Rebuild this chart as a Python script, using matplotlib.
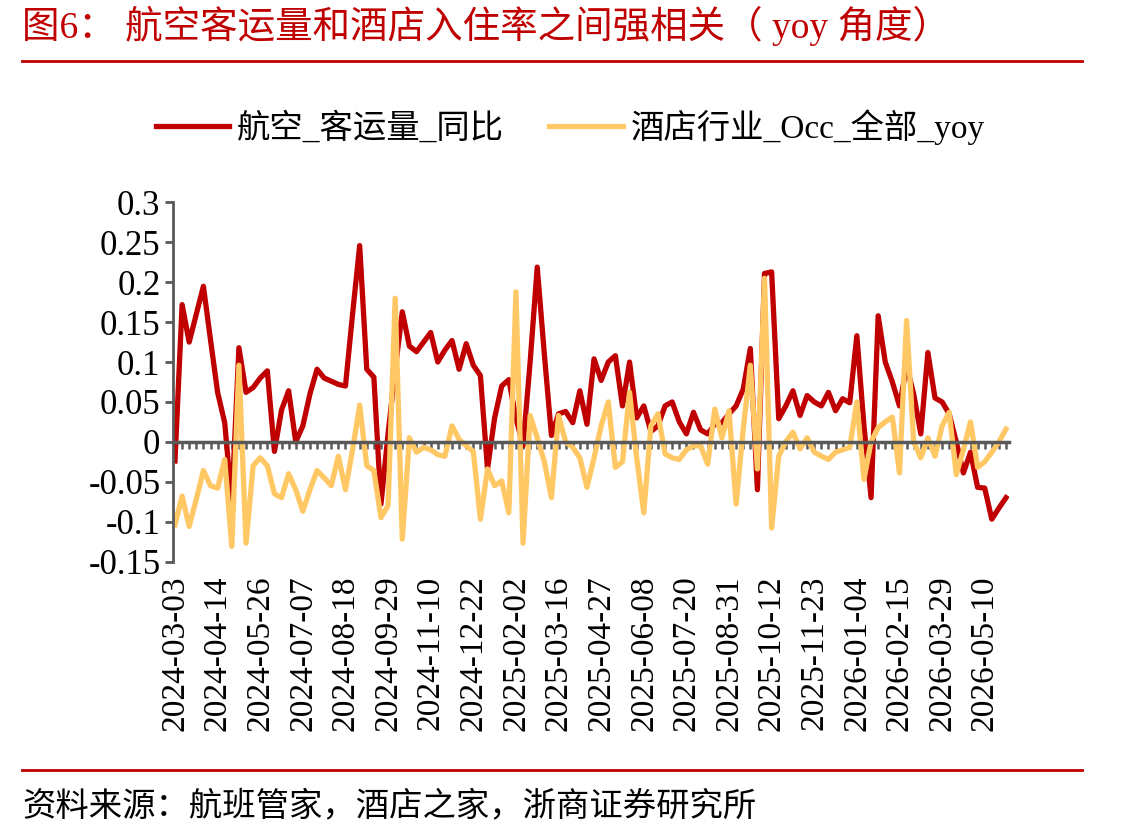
import matplotlib
matplotlib.use('Agg')
import matplotlib.pyplot as plt
from matplotlib.lines import Line2D
import pandas as pd

# weekly categories
dates = pd.date_range('2024-03-03', periods=118, freq='7D')
date_labels = [d.strftime('%Y-%m-%d') for d in dates]

air_yoy = [-0.024, 0.172, 0.125, 0.16, 0.195, 0.128, 0.062, 0.024, -0.076, 0.118,
           0.062, 0.068, 0.08, 0.089, -0.012, 0.04, 0.064, 0.0, 0.02, 0.06,
           0.091, 0.08, 0.076, 0.072, 0.07, 0.16, 0.246, 0.091, 0.081, -0.078,
           0.01, 0.09, 0.163, 0.12, 0.113, 0.125, 0.137, 0.1, 0.115, 0.127,
           0.091, 0.123, 0.096, 0.083, -0.034, 0.03, 0.07, 0.078, 0.03, -0.005,
           0.1, 0.219, 0.11, 0.008, 0.035, 0.038, 0.024, 0.064, 0.022, 0.104,
           0.077, 0.1, 0.108, 0.045, 0.1, 0.03, 0.045, 0.013, 0.02, 0.045,
           0.05, 0.025, 0.01, 0.037, 0.015, 0.01, 0.022, 0.024, 0.035, 0.045,
           0.066, 0.117, -0.06, 0.211, 0.213, 0.029, 0.045, 0.064, 0.033, 0.058,
           0.05, 0.045, 0.062, 0.039, 0.054, 0.049, 0.133, 0.02, -0.07, 0.158,
           0.1, 0.075, 0.045, 0.095, 0.06, 0.01, 0.112, 0.055, 0.05, 0.035,
           0.0, -0.039, -0.013, -0.057, -0.058, -0.097, -0.083, -0.07]

hotel_occ_yoy = [-0.104, -0.068, -0.106, -0.072, -0.036, -0.055, -0.058, -0.022, -0.131, 0.096,
                 -0.127, -0.03, -0.02, -0.03, -0.065, -0.07, -0.04, -0.06, -0.087, -0.06,
                 -0.036, -0.045, -0.055, -0.018, -0.06, -0.01, 0.046, -0.03, -0.036, -0.095,
                 -0.08, 0.18, -0.122, 0.005, -0.013, -0.007, -0.01, -0.016, -0.018, 0.02,
                 0.003, -0.005, -0.012, -0.097, -0.034, -0.055, -0.049, -0.089, 0.188, -0.127,
                 0.033, 0.005, -0.025, -0.07, 0.033, 0.0, -0.007, -0.02, -0.057, -0.02,
                 0.02, 0.05, -0.032, -0.025, 0.062, -0.02, -0.089, 0.02, 0.035, -0.015,
                 -0.02, -0.022, -0.01, -0.005, -0.005, -0.028, 0.041, 0.005, 0.039, -0.078,
                 0.016, 0.096, -0.034, 0.205, -0.108, -0.018, 0.0, 0.012, -0.009, 0.005,
                 -0.013, -0.018, -0.022, -0.013, -0.01, -0.007, 0.05, -0.047, 0.0, 0.018,
                 0.025, 0.031, -0.039, 0.152, 0.0, -0.02, 0.005, -0.018, 0.02, 0.037,
                 -0.041, -0.01, 0.025, -0.032, -0.025, -0.013, 0.0, 0.016]

y_ticks = [-0.15, -0.1, -0.05, 0, 0.05, 0.1, 0.15, 0.2, 0.25, 0.3]
y_labels = ['-0.15', '-0.1', '-0.05', '0', '0.05', '0.1', '0.15', '0.2', '0.25', '0.3']

title = '图6： 航空客运量和酒店入住率之间强相关（ yoy 角度）'
source = '资料来源：航班管家，酒店之家，浙商证券研究所'
names = ['航空_客运量_同比', '酒店行业_Occ_全部_yoy']

RED = '#C00000'
YELLOW = '#FFC864'
GREY = '#595959'
MIXED = ['Liberation Serif', 'Noto Sans CJK SC']

W, H = 1141, 838
fig = plt.figure(figsize=(W / 100, H / 100), dpi=100)
ax = fig.add_axes([173 / W, 1 - 561.5 / H, 836 / W, 359 / H])

x = list(range(len(dates)))
l1, = ax.plot(x, air_yoy, color=RED, lw=3.8, solid_joinstyle='round')
l2, = ax.plot(x, hotel_occ_yoy, color=YELLOW, lw=3.8, solid_joinstyle='round')

ax.set_xlim(-0.28, len(dates) - 1 + 0.42)
ax.set_ylim(-0.15, 0.3)
ax.set_yticks(y_ticks)
ax.set_yticklabels(y_labels, family='Liberation Serif', fontsize=25)
ax.tick_params(axis='y', length=6, width=2, color=GREY, pad=3)

for s in ['top', 'right']:
    ax.spines[s].set_visible(False)
ax.spines['left'].set_color(GREY)
ax.spines['left'].set_linewidth(2)
ax.spines['bottom'].set_position(('data', 0))
ax.spines['bottom'].set_color(GREY)
ax.spines['bottom'].set_linewidth(2.5)
ax.set_xticks(x)
ax.set_xticklabels([])
ax.tick_params(axis='x', length=5, width=1.8, color=GREY, direction='out')

sec = ax.secondary_xaxis('bottom')
sec.set_xticks(x[::6])
sec.set_xticklabels(date_labels[::6], rotation=90, family='Liberation Serif', fontsize=24)
sec.tick_params(length=0, pad=10)
sec.spines['bottom'].set_visible(False)

fig.legend([l1, l2], names, loc='center', bbox_to_anchor=(0.5, 1 - 127 / H), ncol=2,
           frameon=False, handlelength=2.2, handletextpad=0.25, columnspacing=1.35,
           prop={'family': MIXED, 'size': 24})

fig.text(22 / W, 1 - 26 / H, title, color=RED, fontsize=27, va='center', family=MIXED)
fig.add_artist(Line2D([22 / W, 1082 / W], [1 - 61 / H] * 2, color=RED, lw=2))
fig.add_artist(Line2D([22 / W, 1082 / W], [1 - 770 / H] * 2, color=RED, lw=2))
fig.text(22 / W, 1 - 806 / H, source, color='black', fontsize=24, va='center', family=MIXED)

fig.savefig('out.png', dpi=100)
